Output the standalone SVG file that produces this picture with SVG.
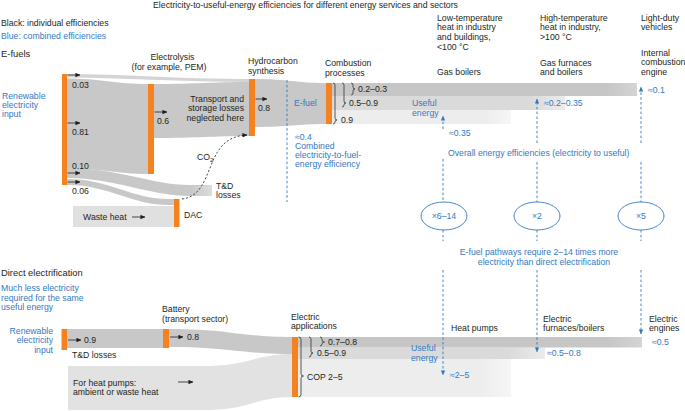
<svg xmlns="http://www.w3.org/2000/svg" width="685" height="411" viewBox="0 0 685 411">
<style>
text{font-family:"Liberation Sans",Arial,sans-serif;font-size:8.7px;fill:#231f20}
.h{font-size:9.4px}
.b{fill:#3479bf}
.m{text-anchor:middle}
.e{text-anchor:end}
.bar{fill:#f5821f}
.flow{fill:#c8c8c8}
.ar{stroke:#231f20;stroke-width:0.8;fill:none;marker-end:url(#ah)}
.bd{stroke:#3479bf;stroke-width:0.9;stroke-dasharray:2.6,2.2;fill:none}
.bda{stroke:#3479bf;stroke-width:0.9;stroke-dasharray:2.6,2.2;fill:none;marker-end:url(#bah)}
.br{stroke:#333;stroke-width:0.8;fill:none}
.el{stroke:#3479bf;stroke-width:0.9;fill:none}
</style>
<defs>
<marker id="ah" viewBox="0 0 6 6" refX="5.5" refY="3" markerWidth="5" markerHeight="5" markerUnits="userSpaceOnUse" orient="auto"><path d="M0,0.4 L6,3 L0,5.6Z" fill="#231f20"/></marker>
<marker id="bah" viewBox="0 0 6 6" refX="5.5" refY="3" markerWidth="5" markerHeight="5" markerUnits="userSpaceOnUse" orient="auto"><path d="M0,0.4 L6,3 L0,5.6Z" fill="#3479bf"/></marker>
<linearGradient id="gMid" x1="0" y1="0" x2="1" y2="0"><stop offset="0" stop-color="#dadada"/><stop offset="0.85" stop-color="#dadada"/><stop offset="1" stop-color="#ececec"/></linearGradient>
<linearGradient id="gLow" x1="0" y1="0" x2="1" y2="0"><stop offset="0" stop-color="#ededed"/><stop offset="0.85" stop-color="#ededed"/><stop offset="1" stop-color="#f6f6f6"/></linearGradient>
<linearGradient id="gTop" x1="0" y1="0" x2="1" y2="0"><stop offset="0" stop-color="#c6c6c6"/><stop offset="0.9" stop-color="#c6c6c6"/><stop offset="1" stop-color="#d4d4d4"/></linearGradient>
<linearGradient id="gTD" x1="0" y1="0" x2="1" y2="0"><stop offset="0" stop-color="#c8c8c8"/><stop offset="0.85" stop-color="#c8c8c8"/><stop offset="1" stop-color="#dcdcdc"/></linearGradient>
</defs>
<rect width="685" height="411" fill="#fff"/>

<g id="connectors">
<!-- E-fuel flows -->
<path d="M67,74 C120,74 180,79 249,79 L249,82 C180,82 120,77.5 67,77.5 Z" fill="#d4d4d4"/>
<path class="flow" d="M67,78.5 C100,78.5 115,84 148,84 L148,174 C115,174 100,168 67,168 Z"/>
<path fill="url(#gTD)" d="M67,168 C120,168 150,185 190,185 L212,185 L212,196 L190,196 C150,196 115,178 67,178 Z"/>
<path class="flow" d="M67,179 C110,179 130,199 170,199 L174,199 L174,205 L170,205 C130,205 110,185 67,185 Z"/>
<rect x="73" y="206" width="101" height="21" fill="#e0e0e0"/>
<path class="flow" d="M154,84 C200,84 210,82 249,82 L249,136 C210,136 200,138 154,138 Z"/>
<path class="flow" d="M255,79 C290,79 295,83 326,83 L326,124 C295,124 290,127 255,127 Z"/>
<rect x="332" y="110" width="179" height="14" fill="url(#gLow)"/>
<rect x="332" y="96" width="233" height="14" fill="url(#gMid)"/>
<rect x="332" y="83" width="305" height="13" fill="url(#gTop)"/>
<path d="M182,199 C200,197 205,180 212,163 C219,146 228,136 247,135" stroke="#231f20" stroke-width="0.8" stroke-dasharray="2.2,1.8" fill="none" marker-end="url(#ah)"/>
<!-- Direct electrification flows -->
<rect class="flow" x="67" y="329" width="96" height="19"/>
<path class="flow" d="M169,329 C230,329 240,337 292,337 L292,354 C240,354 230,347 169,347 Z"/>
<path fill="#e2e2e2" d="M68,366 L205,366 C250,366 255,354 292,354 L292,397 C255,397 250,410 205,410 L68,410 Z"/>
<rect x="298" y="359" width="213" height="38" fill="url(#gLow)"/>
<rect x="298" y="347.5" width="247" height="11.5" fill="url(#gMid)"/>
<rect x="298" y="337" width="344" height="10.5" fill="url(#gTop)"/>
<!-- small arrows -->
<line class="ar" x1="67.5" y1="75" x2="80" y2="75"/>
<line class="ar" x1="67.5" y1="123" x2="80" y2="123"/>
<line class="ar" x1="67.5" y1="173" x2="80" y2="173"/>
<line class="ar" x1="67.5" y1="182" x2="80" y2="182"/>
<line class="ar" x1="154.5" y1="112" x2="167" y2="112"/>
<line class="ar" x1="255.5" y1="99" x2="267" y2="99"/>
<line class="ar" x1="132" y1="217" x2="145" y2="217"/>
<line class="ar" x1="68" y1="340" x2="81" y2="340"/>
<line class="ar" x1="170" y1="337" x2="183" y2="337"/>
<line class="ar" x1="178" y1="382" x2="193" y2="382"/>
<!-- blue dashed lines -->
<line class="bd" x1="287" y1="80" x2="287" y2="202"/>
<line class="bda" x1="443" y1="129" x2="443" y2="116"/>
<line class="bd" x1="443" y1="159" x2="443" y2="202"/>
<line class="bd" x1="443" y1="230" x2="443" y2="241"/>
<line class="bda" x1="443" y1="270" x2="443" y2="375"/>
<line class="bda" x1="537" y1="143" x2="537" y2="99"/>
<line class="bd" x1="537" y1="162" x2="537" y2="202"/>
<line class="bd" x1="537" y1="230" x2="537" y2="241"/>
<line class="bda" x1="537" y1="270" x2="537" y2="352"/>
<line class="bda" x1="641" y1="143" x2="641" y2="87"/>
<line class="bd" x1="641" y1="162" x2="641" y2="202"/>
<line class="bd" x1="641" y1="230" x2="641" y2="241"/>
<line class="bda" x1="641" y1="270" x2="641" y2="334"/>
<!-- braces -->
<path class="br" d="M333,83 Q335,83 335,85 V118 Q335,120 337,120 Q335,120 335,122 V122 Q335,124 333,124"/>
<path class="br" d="M342,83 Q344,83 344,85 V101 Q344,103 346,103 Q344,103 344,105 V105 Q344,107 342,107"/>
<path class="br" d="M351,83 Q353,83 353,85 V87 Q353,89 355,89 Q353,89 353,91 V93 Q353,95 351,95"/>
<path class="br" d="M298.5,337 Q301,337 301,339.5 V373.5 Q301,376 303.5,376 Q301,376 301,378.5 V394.5 Q301,397 298.5,397"/>
<path class="br" d="M309,337 Q311,337 311,339 V351 Q311,353 313,353 Q311,353 311,355 V355 Q311,357 309,357"/>
<path class="br" d="M320,337 Q322,337 322,339 V340 Q322,342 324.5,342 Q322,342 322,344 V344 Q322,346 320,346"/>
</g>

<g id="bar-input-efuel"><rect class="bar" x="62" y="74" width="5" height="111"/></g>
<g id="bar-electrolysis"><rect class="bar" x="148" y="84" width="6" height="90"/></g>
<g id="bar-synthesis"><rect class="bar" x="249" y="79" width="6" height="57"/></g>
<g id="bar-combustion"><rect class="bar" x="326" y="83" width="6" height="41"/></g>
<g id="bar-dac"><rect class="bar" x="174" y="199" width="5.5" height="28"/></g>
<g id="bar-input-direct"><rect class="bar" x="61.5" y="329" width="5.5" height="21"/></g>
<g id="bar-battery"><rect class="bar" x="163" y="329" width="6" height="19"/></g>
<g id="bar-electric"><rect class="bar" x="292" y="337" width="6" height="60"/></g>

<g id="ratios">
<ellipse class="el" cx="444" cy="216" rx="23" ry="14"/>
<ellipse class="el" cx="537" cy="216" rx="23" ry="14"/>
<ellipse class="el" cx="641" cy="216" rx="23" ry="14"/>
<text class="b m" x="444" y="219">×6–14</text>
<text class="b m" x="537" y="219">×2</text>
<text class="b m" x="641" y="219">×5</text>
</g>

<g id="labels">
<text class="m" x="305.5" y="8">Electricity-to-useful-energy efficiencies for different energy services and sectors</text>
<text x="1" y="26">Black: individual efficiencies</text>
<text class="b" x="1" y="39">Blue: combined efficiencies</text>
<text class="h" x="1" y="57">E-fuels</text>
<text class="m" x="172.5" y="60">Electrolysis</text>
<text class="m" x="169" y="70">(for example, PEM)</text>
<text x="248" y="64">Hydrocarbon</text>
<text x="248" y="74">synthesis</text>
<text x="325" y="66">Combustion</text>
<text x="325" y="76">processes</text>
<text x="437" y="21">Low-temperature</text>
<text x="437" y="30">heat in industry</text>
<text x="437" y="40">and buildings,</text>
<text x="437" y="50">&lt;100 °C</text>
<text x="540" y="21">High-temperature</text>
<text x="540" y="30">heat in industry,</text>
<text x="540" y="40">&gt;100 °C</text>
<text x="641" y="21">Light-duty</text>
<text x="641" y="30">vehicles</text>
<text x="641" y="56">Internal</text>
<text x="641" y="65">combustion</text>
<text x="641" y="75">engine</text>
<text x="437" y="75">Gas boilers</text>
<text x="540" y="66">Gas furnaces</text>
<text x="540" y="75">and boilers</text>
<text class="b" x="2" y="99">Renewable</text>
<text class="b" x="2" y="108">electricity</text>
<text class="b" x="2" y="117">input</text>
<text x="72" y="88">0.03</text>
<text x="72" y="135">0.81</text>
<text x="72" y="169">0.10</text>
<text x="72" y="194">0.06</text>
<text x="157" y="124">0.6</text>
<text class="e" x="244" y="102">Transport and</text>
<text class="e" x="244" y="111">storage losses</text>
<text class="e" x="244" y="121">neglected here</text>
<text x="258" y="111">0.8</text>
<text class="b" x="294" y="106">E-fuel</text>
<text x="358" y="92">0.2–0.3</text>
<text x="349" y="106">0.5–0.9</text>
<text x="341" y="123">0.9</text>
<text class="b" x="412" y="106">Useful</text>
<text class="b" x="412" y="116">energy</text>
<text class="b" x="449" y="136">≈0.35</text>
<text class="b" x="544" y="106">≈0.2–0.35</text>
<text class="b" x="648" y="93">≈0.1</text>
<text class="b" x="295" y="140">≈0.4</text>
<text class="b" x="295" y="149">Combined</text>
<text class="b" x="295" y="158">electricity-to-fuel-</text>
<text class="b" x="295" y="167">energy efficiency</text>
<text x="197" y="160">CO<tspan font-size="6" dy="2">2</tspan></text>
<text x="216" y="189">T&amp;D</text>
<text x="216" y="198">losses</text>
<text x="83" y="220">Waste heat</text>
<text x="184" y="218">DAC</text>
<text class="b" x="448" y="156">Overall energy efficiencies (electricity to useful)</text>
<text class="b m" x="539" y="255">E-fuel pathways require 2–14 times more</text>
<text class="b m" x="544" y="265">electricity than direct electrification</text>
<text class="h" x="1" y="276">Direct electrification</text>
<text class="b" x="1" y="291">Much less electricity</text>
<text class="b" x="1" y="301">required for the same</text>
<text class="b" x="1" y="310">useful energy</text>
<text class="b e" x="53" y="334">Renewable</text>
<text class="b e" x="53" y="343">electricity</text>
<text class="b e" x="53" y="353">input</text>
<text x="84" y="343">0.9</text>
<text x="72" y="358">T&amp;D losses</text>
<text x="162" y="312">Battery</text>
<text x="162" y="322">(transport sector)</text>
<text x="187" y="340">0.8</text>
<text x="291" y="320">Electric</text>
<text x="291" y="329">applications</text>
<text x="328" y="345">0.7–0.8</text>
<text x="317" y="356">0.5–0.9</text>
<text x="307" y="380">COP 2–5</text>
<text class="b" x="411" y="351">Useful</text>
<text class="b" x="411" y="361">energy</text>
<text x="451" y="331">Heat pumps</text>
<text x="543" y="322">Electric</text>
<text x="543" y="331">furnaces/boilers</text>
<text x="649" y="322">Electric</text>
<text x="649" y="331">engines</text>
<text class="b" x="450" y="378">≈2–5</text>
<text class="b" x="547" y="356">≈0.5–0.8</text>
<text class="b" x="652" y="345">≈0.5</text>
<text x="73" y="386">For heat pumps:</text>
<text x="73" y="395">ambient or waste heat</text>
</g>
</svg>
